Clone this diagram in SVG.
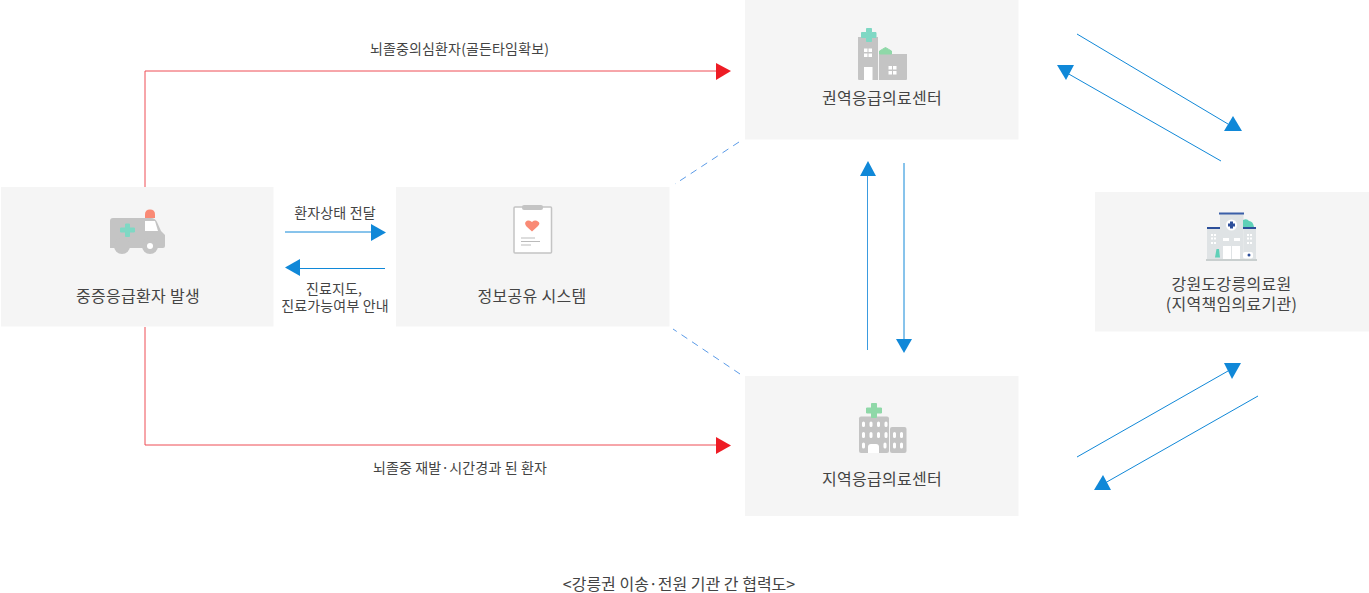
<svg xmlns="http://www.w3.org/2000/svg" width="1369" height="593" viewBox="0 0 1369 593">
<style>
text{font-family:"Noto Sans CJK KR","Noto Sans",sans-serif;fill:#444;text-anchor:middle}
.l{font-size:16px;letter-spacing:.3px}.s{font-size:14px;letter-spacing:.15px}
.box{fill:#f5f5f5}
.red{fill:none;stroke:#ee4d55;stroke-width:1}
.blue{fill:none;stroke:#1088d8;stroke-width:1}
.dash{fill:none;stroke:#5b9be8;stroke-width:1;stroke-dasharray:7 5.700}
.gr{fill:#c4c4c4}.wh{fill:#fff}.mint{fill:#7fd8c4;stroke:#7fd8c4;stroke-width:1;stroke-linejoin:round}
.grn{fill:#8fd8a8;stroke:#8fd8a8;stroke-width:1;stroke-linejoin:round}
</style>
<rect width="1369" height="593" fill="#fff"/>
<g id="connectors">
<path class="red" d="M145 187V71H716"/><polygon fill="#ee1c25" points="731,71 716,63 716,80"/>
<path class="red" d="M145 327V445H716"/><polygon fill="#ee1c25" points="731,445.500 716,437 716,454"/>
<path class="blue" d="M285 232H371"/><polygon fill="#1088d8" points="386,232.500 371,224 371,241"/>
<path class="blue" d="M385 268.500H300"/><polygon fill="#1088d8" points="285,267.500 300,259 300,276"/>
<path class="dash" d="M739 142L675 184"/><path class="dash" d="M740 374L673 329"/>
<path class="blue" style="stroke:#3a9be0" d="M867.500 350V176"/><polygon fill="#1088d8" points="868,161 860,176 876,176"/>
<path class="blue" d="M904 163V339"/><polygon fill="#1088d8" points="904,353 896,339 912,339"/>
<path class="blue" d="M1077 34L1228 124"/><polygon fill="#1088d8" points="1233,116 1224,131 1242,131"/>
<path class="blue" d="M1221 161L1067 73"/><polygon fill="#1088d8" points="1057,65 1074,65 1066,80"/>
<path class="blue" d="M1077 457L1228 371"/><polygon fill="#1088d8" points="1224,363 1241,363 1232,379"/>
<path class="blue" d="M1258 396L1105 483"/><polygon fill="#1088d8" points="1103,475 1094,490 1111,490"/>
</g>
<g id="node-patient">
<rect class="box" x="1" y="187" width="272.500" height="139.500"/>
<path class="gr" d="M113 218H151Q155 218 157 222L161 231 165 235V246Q165 248 163 248H110V221Q110 218 113 218Z"/>
<circle class="gr" cx="122" cy="246" r="8"/><circle class="gr" cx="150" cy="246" r="8"/><circle class="wh" cx="150" cy="246" r="3"/>
<path d="M145 218V214.500Q145 209.500 150 209.500T155 214.500V218Z" fill="#f98a75"/>
<path class="wh" d="M145 221H155L158 231H145Z"/>
<path class="mint" d="M125.500 224H129.500V228H134.500V232H129.500V236.500H125.500V232H120.500V228H125.500Z"/>
<text class="l" x="138" y="302">중증응급환자 발생</text>
</g>
<g id="node-system">
<rect class="box" x="396" y="187" width="273.500" height="139.500"/>
<rect x="514" y="207" width="37.500" height="46" rx="1" fill="#fff" stroke="#c4c4c4" stroke-width="1.500"/>
<rect class="gr" x="522" y="205" width="21" height="5" rx="2"/>
<path fill="#f98a75" d="M532 231.500L526.500 226.500Q524 223.500 526 221.500T532 222Q535 219.500 538 221.500T537.500 226.500Z"/>
<path fill="none" stroke="#bbb" d="M521 238H535M521 241.500H540M521 245H531"/>
<text class="l" x="532" y="302">정보공유 시스템</text>
</g>
<g id="node-regional">
<rect class="box" x="745" y="0" width="273.500" height="139.500"/>
<path class="gr" d="M858 37H878V80H859Q858 80 858 79Z"/>
<rect class="wh" x="864" y="67" width="8.500" height="13"/>
<path class="wh" d="M864 48.500H867.500V52H864ZM868.500 48.500H872V52H868.500ZM864 53.500H867.500V57H864ZM868.500 53.500H872V57H868.500Z"/>
<path class="gr" d="M879 54H907V79Q907 80 906 80H879Z"/>
<path class="wh" d="M888.500 66H892V69.500H888.500ZM893 66H896.500V69.500H893ZM888.500 71H892V74.500H888.500ZM893 71H896.500V74.500H893Z"/>
<path class="mint" d="M866.500 28.500H871.500V32.500H876V37.500H871.500V41.500H866.500V37.500H861.500V32.500H866.500Z"/>
<path class="grn" d="M879.500 54V51Q882 49.500 885.500 47.500Q889 49.500 891.500 51V54Z"/>
<text class="l" x="882" y="104">권역응급의료센터</text>
</g>
<g id="node-local">
<rect class="box" x="745" y="376" width="273.500" height="140"/>
<rect class="gr" x="859" y="416.500" width="30" height="36.500" rx="2"/><rect class="gr" x="890" y="427" width="16.500" height="26" rx="2"/>
<path fill="none" stroke="#fff" stroke-width="3" stroke-linecap="round" d="M863.500 423v2.500M871 423v2.500M878.500 423v2.500M886 423v2.500M863.500 433.500v3M871 433.500v3M878.500 433.500v3M886 433.500v3M894.500 433.500v3M901.500 433.500v3M863.500 444v3M885 444v3M894.500 444v3M901.500 444v3"/>
<path class="wh" d="M868 453V447Q868 444 871 444H876Q879 444 879 447V453Z"/>
<path class="grn" d="M871.500 403.500H876.500V408H881.500V413H876.500V417.500H871.500V413H866.500V408H871.500Z"/>
<text class="l" x="882" y="485">지역응급의료센터</text>
</g>
<g id="node-hospital">
<rect class="box" x="1095" y="192" width="274" height="139.500"/>
<rect x="1220" y="214" width="23.500" height="47" fill="#dfe3e5"/><rect x="1219" y="212.500" width="25" height="2" fill="#3a5fa8"/>
<path fill="#5fd0b8" d="M1243 227V220Q1247 218 1249 221Q1253 221 1254 227Z"/>
<rect x="1207" y="229" width="13" height="32" fill="#dfe3e5"/><rect x="1243.500" y="229" width="12.500" height="32" fill="#dfe3e5"/>
<rect x="1207" y="227" width="13" height="2" fill="#2d4f9a"/><rect x="1243" y="227" width="13" height="2" fill="#2d4f9a"/>
<circle class="wh" cx="1231.500" cy="225" r="5.500"/><path fill="#2d4f9a" d="M1230 221.500h3v2h2v3h-2v2h-3v-2h-2v-3h2z"/>
<rect class="wh" x="1223" y="246" width="17" height="13.500"/><path stroke="#dfe3e5" d="M1231.500 246v13"/>
<path d="M1215 257.500L1216.500 249H1219L1220 257.500Z" fill="#5fd0b8"/>
<rect x="1243" y="252" width="10" height="6.500" rx="2" fill="#fff"/><circle cx="1249" cy="255" r="1.500" fill="#2d4f9a"/>
<path fill="none" stroke="#fff" stroke-width="2" stroke-dasharray="2 1" d="M1211 235h5M1211 238.500h5M1211 243h5M1247 235h5M1247 238.500h5M1247 243h5"/>
<path fill="none" stroke="#fff" stroke-width="3" d="M1223 239.500h6M1234 239.500h6"/>
<rect x="1206" y="259" width="51" height="2" fill="#c9cfcf"/>
<text class="l" x="1231.500" y="290">강원도강릉의료원</text>
<text class="l" x="1231.500" y="310">(지역책임의료기관)</text>
</g>
<g id="labels">
<text class="s" x="459.500" y="54">뇌졸중의심환자(골든타임확보)</text>
<text class="s" x="335" y="218">환자상태 전달</text>
<text class="s" x="334" y="294">진료지도,</text>
<text class="s" x="335" y="311">진료가능여부 안내</text>
<text class="s" x="460" y="473">뇌졸중 재발·시간경과 된 환자</text>
<text x="679" y="590" style="font-size:16px">&lt;강릉권 이송·전원 기관 간 협력도&gt;</text>
</g>
</svg>
